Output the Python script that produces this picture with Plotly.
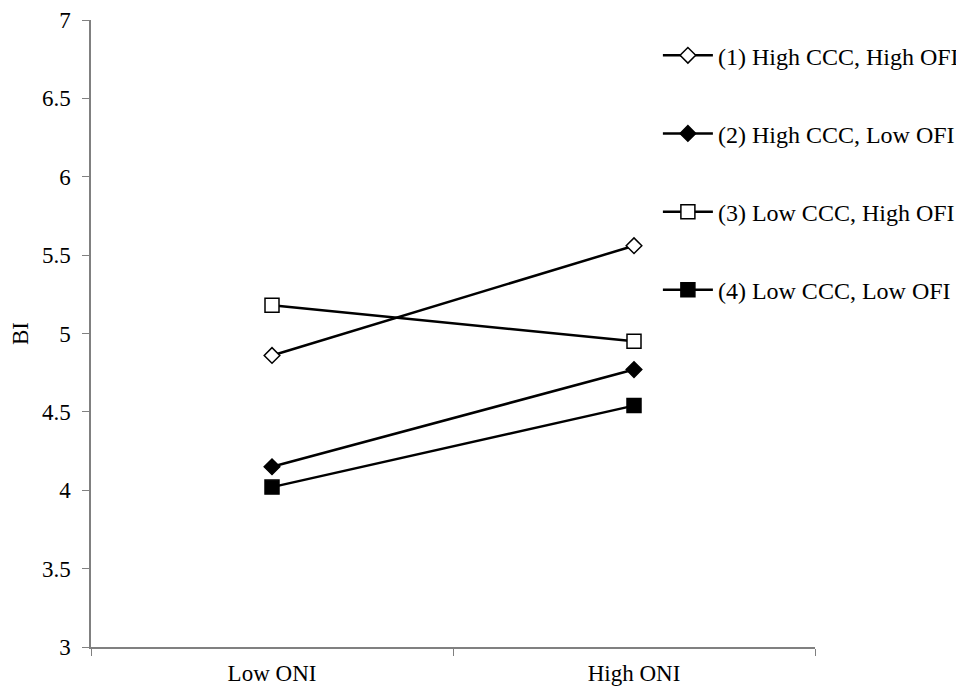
import plotly.graph_objects as go

categories = ["Low ONI", "High ONI"]
series_names = [
    "(1) High CCC, High OFI",
    "(2) High CCC, Low OFI",
    "(3) Low CCC, High OFI",
    "(4) Low CCC, Low OFI",
]
s1 = [4.86, 5.56]
s2 = [4.15, 4.77]
s3 = [5.18, 4.95]
s4 = [4.02, 4.54]
series_values = [s1, s2, s3, s4]
y_ticks = [3, 3.5, 4, 4.5, 5, 5.5, 6, 6.5, 7]
y_tick_labels = ["3", "3.5", "4", "4.5", "5", "5.5", "6", "6.5", "7"]

styles = [
    dict(symbol="diamond", color="white", size=12),
    dict(symbol="diamond", color="black", size=12),
    dict(symbol="square", color="white", size=14),
    dict(symbol="square", color="black", size=14),
]

FONT = "Liberation Serif, Times New Roman, serif"
FS = 23

fig = go.Figure()
for i, (name, vals, st) in enumerate(zip(series_names, series_values, styles)):
    fig.add_trace(go.Scatter(
        x=categories, y=vals, name=name, mode="lines+markers",
        legendgroup=f"g{i}",
        line=dict(color="black", width=2.5),
        marker=dict(symbol=st["symbol"], color=st["color"], size=st["size"],
                    line=dict(color="black", width=1.5)),
    ))

fig.update_layout(
    width=956, height=679,
    margin=dict(l=83, r=149, t=12, b=40, autoexpand=False),
    paper_bgcolor="white", plot_bgcolor="white",
    font=dict(family=FONT, size=FS, color="black"),
    showlegend=True,
    legend=dict(x=0.783, y=0.979, xanchor="left", yanchor="top",
                bgcolor="rgba(0,0,0,0)", tracegroupgap=44,
                itemwidth=50, font=dict(family=FONT, size=24, color="black")),
    xaxis=dict(type="category", range=[-0.5, 1.5], tickson="boundaries",
               ticks="outside", ticklen=7, tickcolor="#808080",
               showline=True, linecolor="#808080", linewidth=1.5,
               showgrid=False, zeroline=False, tickfont=dict(size=FS),
               ticklabelstandoff=5, automargin=False),
    yaxis=dict(range=[3, 7], tickvals=y_ticks, ticktext=y_tick_labels,
               ticks="outside", ticklen=7, tickcolor="#808080",
               showline=True, linecolor="#808080", linewidth=1.5,
               showgrid=False, zeroline=False, tickfont=dict(size=FS),
               ticklabelstandoff=7, automargin=False,
               title=dict(text="BI", standoff=8, font=dict(size=FS))),
)

fig.write_html("out.html")
